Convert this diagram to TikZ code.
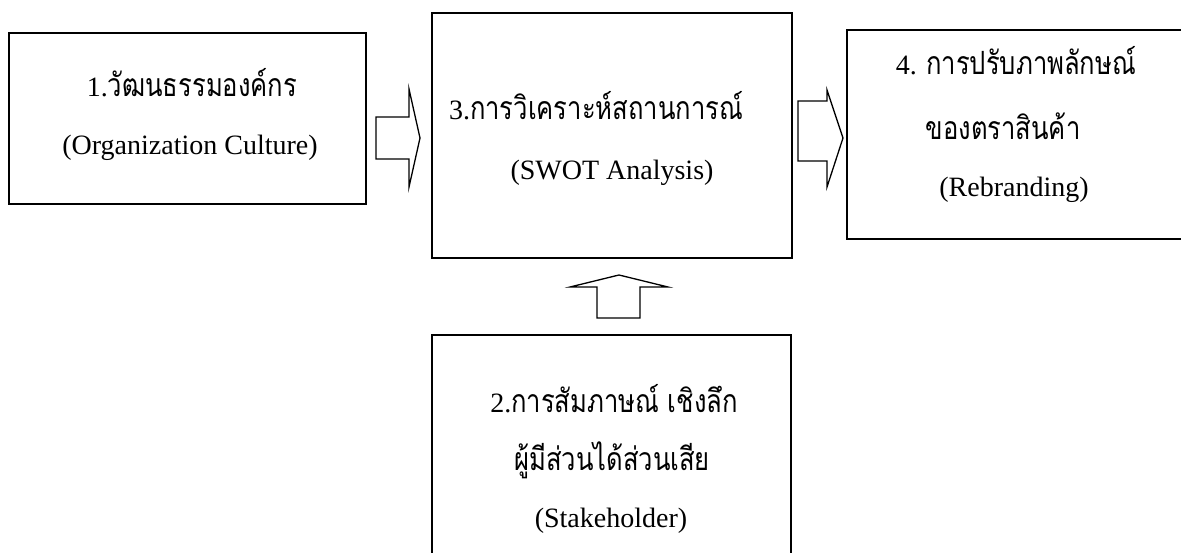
\documentclass[tikz,border=0pt]{standalone}
\usepackage{fontspec}
\setmainfont{Liberation Serif}
\newfontfamily\thaifont[Script=Thai,FakeStretch=0.8]{Loma}
\newcommand{\thaitxt}[1]{{\fontsize{32}{36}\selectfont\thaifont #1}}
\begin{document}
\begin{tikzpicture}[x=1pt,y=-1pt,
  box/.style={draw, line width=1.8pt, inner sep=0pt},
  blk/.style={draw, line width=1.3pt, line join=miter},
  lbl/.style={anchor=base, inner sep=0pt, font=\fontsize{28}{32}\selectfont},
  thl/.style={anchor=base, inner sep=0pt, font=\fontsize{28}{32}\selectfont}]
\useasboundingbox (0,0) rectangle (1181,553);
% boxes
\node[box, minimum width=357pt, minimum height=171pt] (b1) at (187.5,118.5) {};
\node[box, minimum width=360pt, minimum height=245pt] (b3) at (612,135.5) {};
\node[box, minimum width=338pt, minimum height=209pt] (b4) at (1016,134.5) {};
\node[box, minimum width=359pt, minimum height=230pt] (b2) at (611.5,450) {};
% texts
\node[thl] (t1a) at (192,97) {1.\thaitxt{วัฒนธรรมองค์กร}};
\node[lbl] (t1b) at (190,155) {(Organization Culture)};
\node[thl] (t3a) at (596,120) {3.\thaitxt{การวิเคราะห์สถานการณ์}};
\node[lbl] (t3b) at (612,180) {(SWOT Analysis)};
\node[thl] (t4a) at (1016,75) {4. \thaitxt{การปรับภาพลักษณ์}};
\node[thl] (t4b) at (1003,140) {\thaitxt{ของตราสินค้า}};
\node[lbl] (t4c) at (1014,197) {(Rebranding)};
\node[thl] (t2a) at (614,412) {2.\thaitxt{การสัมภาษณ์ เชิงลึก}};
\node[thl] (t2b) at (612,470) {\thaitxt{ผู้มีส่วนได้ส่วนเสีย}};
\node[lbl] (t2c) at (611,527) {(Stakeholder)};
% block arrows
\draw[blk] (376,117) -- (409,117) -- (409,89) -- (420,138) -- (409,187) -- (409,159) -- (376,159) -- cycle;
\draw[blk] (798,101) -- (827,101) -- (827,90) -- (843,138) -- (827,187) -- (827,161) -- (798,161) -- cycle;
\draw[blk] (597,318) -- (597,287) -- (570,287) -- (619,275) -- (668,287) -- (640,287) -- (640,318) -- cycle;
\end{tikzpicture}
\end{document}
